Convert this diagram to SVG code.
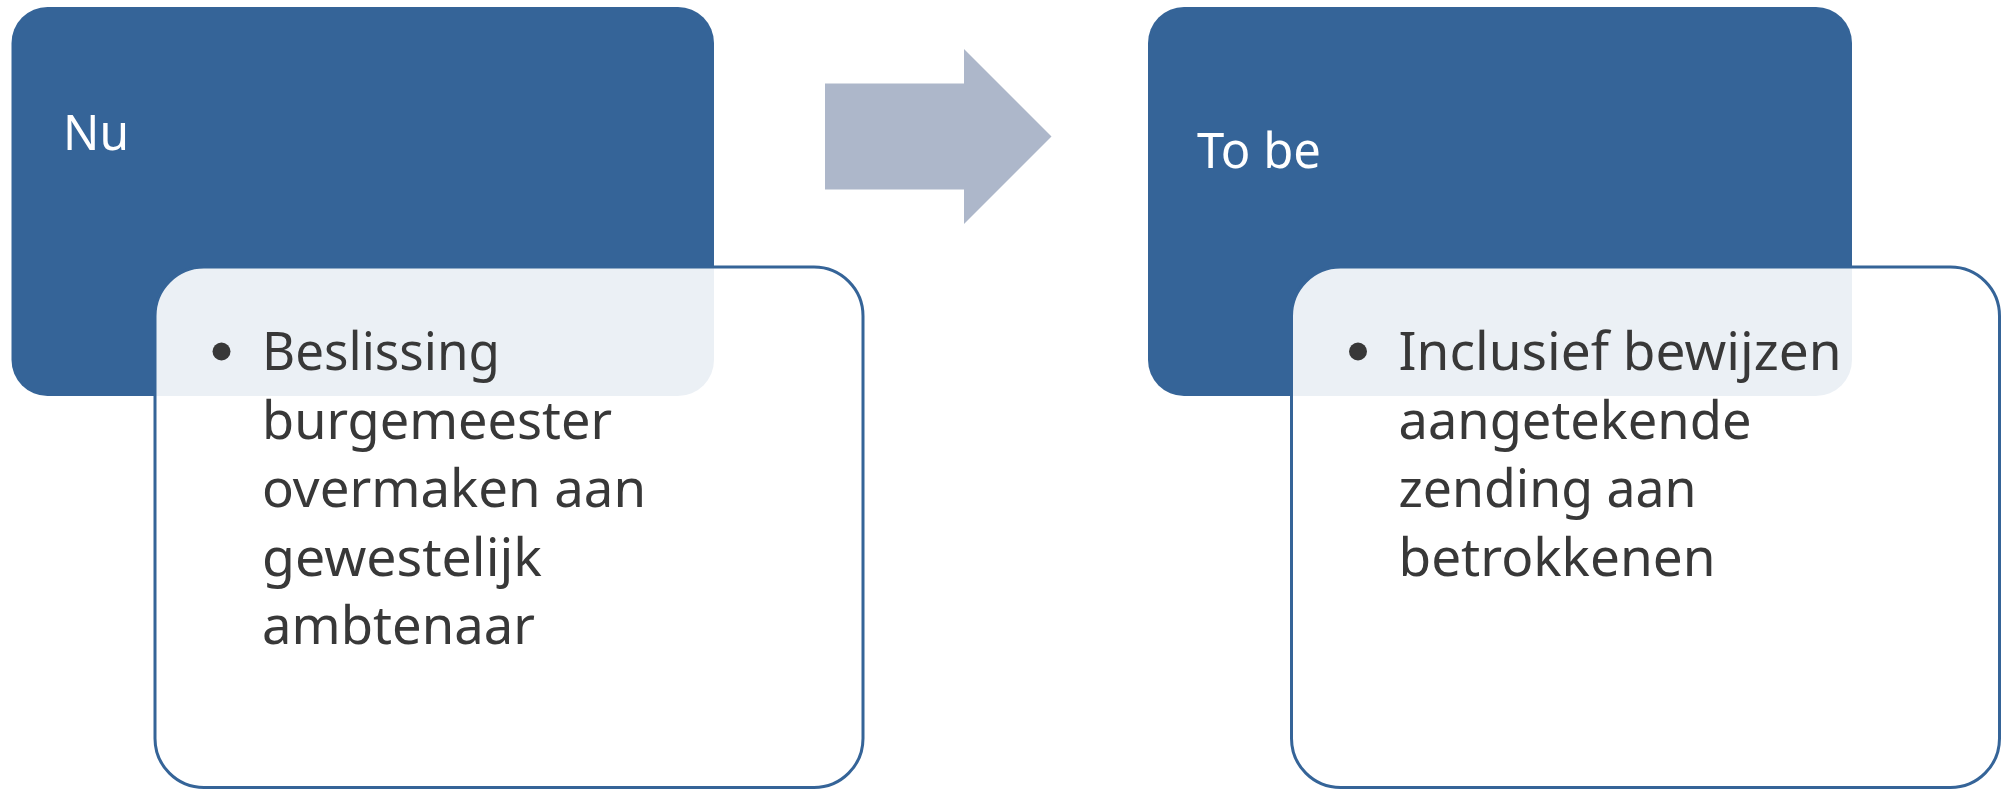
<svg xmlns="http://www.w3.org/2000/svg" width="2011" height="789" viewBox="0 0 2011 789">
<style>
.dark{fill:#356498;}
.card{fill:#ffffff;fill-opacity:0.9;stroke:#356498;stroke-width:3;}
.head{font-family:"Noto Sans","Open Sans",sans-serif;font-size:49px;fill:#ffffff;}
.body{font-family:"Noto Sans","Open Sans",sans-serif;font-size:53px;fill:#383838;}
.bullet{fill:#383838;}
.arrow{fill:#ADB7CA;}
</style>
<rect width="2011" height="789" fill="#ffffff"/>
<g id="nu-header">
<rect class="dark" x="11.5" y="7" width="702.5" height="389" rx="36" ry="36"/>
<text class="head" x="63" y="150" textLength="66" lengthAdjust="spacingAndGlyphs">Nu</text>
</g>
<g id="nu-card">
<rect class="card" x="155" y="267" width="708" height="520.5" rx="49" ry="49"/>
<circle class="bullet" cx="221.5" cy="351.5" r="9"/>
<text class="body" x="262" y="370" textLength="238" lengthAdjust="spacingAndGlyphs">Beslissing</text>
<text class="body" x="262" y="438.5" textLength="350" lengthAdjust="spacingAndGlyphs">burgemeester</text>
<text class="body" x="262" y="507" textLength="384" lengthAdjust="spacingAndGlyphs">overmaken aan</text>
<text class="body" x="262" y="575.5" textLength="280" lengthAdjust="spacingAndGlyphs">gewestelijk</text>
<text class="body" x="262" y="644" textLength="273" lengthAdjust="spacingAndGlyphs">ambtenaar</text>
</g>
<g id="connectors">
<polygon class="arrow" points="825,83.5 964,83.5 964,49 1051.5,136.5 964,224 964,189.5 825,189.5"/>
</g>
<g id="tobe-header">
<rect class="dark" x="1148" y="7" width="704" height="389" rx="36" ry="36"/>
<text class="head" x="1197" y="168" textLength="124" lengthAdjust="spacingAndGlyphs">To be</text>
</g>
<g id="tobe-card">
<rect class="card" x="1291.5" y="267" width="708" height="520.5" rx="49" ry="49"/>
<circle class="bullet" cx="1358" cy="351.5" r="9"/>
<text class="body" x="1398.5" y="370" textLength="443" lengthAdjust="spacingAndGlyphs">Inclusief bewijzen</text>
<text class="body" x="1398.5" y="438.5" textLength="353" lengthAdjust="spacingAndGlyphs">aangetekende</text>
<text class="body" x="1398.5" y="507" textLength="298" lengthAdjust="spacingAndGlyphs">zending aan</text>
<text class="body" x="1398.5" y="575.5" textLength="317" lengthAdjust="spacingAndGlyphs">betrokkenen</text>
</g>
</svg>
